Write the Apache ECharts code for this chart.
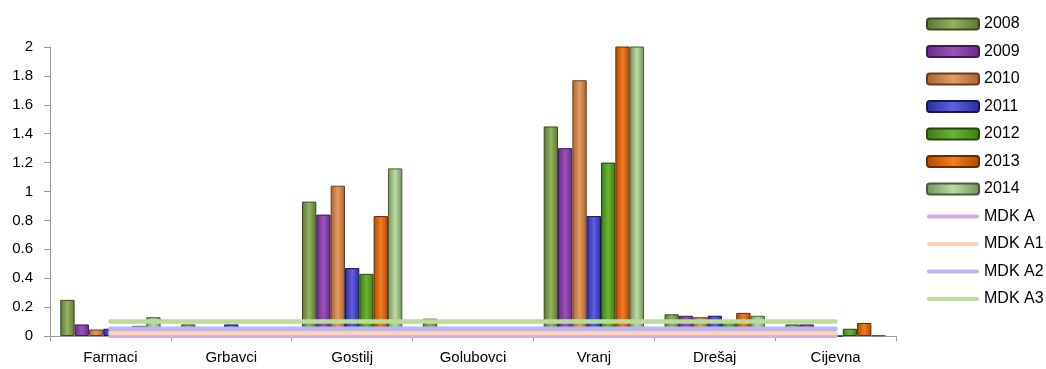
<!DOCTYPE html>
<html>
<head>
<meta charset="utf-8">
<script src="https://cdn.jsdelivr.net/npm/echarts@6/dist/echarts.min.js"></script>
<style>
  html, body { margin: 0; padding: 0; background: #fff; }
  #chart { width: 1046px; height: 369px; }
</style>
</head>
<body>
<div id="chart"></div>
<script>
const categories = ['Farmaci', 'Grbavci', 'Gostilj', 'Golubovci', 'Vranj', 'Drešaj', 'Cijevna']

const y2008 = [0.25, 0.08, 0.93, 0.12, 1.45, 0.15, 0.08]
const y2009 = [0.08, 0, 0.84, 0, 1.30, 0.14, 0.08]
const y2010 = [0.045, 0, 1.04, 0, 1.77, 0.13, 0]
const y2011 = [0.05, 0.08, 0.47, 0, 0.83, 0.14, 0]
const y2012 = [0.03, 0, 0.43, 0, 1.20, 0.10, 0.05]
const y2013 = [0.07, 0, 0.83, 0, 2.30, 0.16, 0.09]
const y2014 = [0.13, 0, 1.16, 0, 2.50, 0.14, 0.005]

const mdkA  = [0, 0, 0, 0, 0, 0, 0]
const mdkA1 = [0.02, 0.02, 0.02, 0.02, 0.02, 0.02, 0.02]
const mdkA2 = [0.05, 0.05, 0.05, 0.05, 0.05, 0.05, 0.05]
const mdkA3 = [0.1, 0.1, 0.1, 0.1, 0.1, 0.1, 0.1]

const yTicks = [0, 0.2, 0.4, 0.6, 0.8, 1, 1.2, 1.4, 1.6, 1.8, 2]

const fontFamily = "'Liberation Sans', Arial, sans-serif"
const axisGray = '#9a9a9a'

// cylinder-ish shading like the old Excel bevel bars
const shade = (edge, mid) => new echarts.graphic.LinearGradient(0, 0, 1, 0, [
  { offset: 0, color: edge },
  { offset: 0.5, color: mid },
  { offset: 1, color: edge },
])

// thick rounded stroke for the MDK legend entries
const lineIcon = 'path://M2,0 H50 A2,2 0 0 1 50,4 H2 A2,2 0 0 1 2,0 Z'

const barSeries = [
  { name: '2008', data: y2008, edge: '#5b7431', mid: '#94b460', border: '#3b4a22' },
  { name: '2009', data: y2009, edge: '#662a87', mid: '#9c52bb', border: '#40185a' },
  { name: '2010', data: y2010, edge: '#a9622f', mid: '#e39d62', border: '#6e3c1a' },
  { name: '2011', data: y2011, edge: '#2b2b9c', mid: '#6060e2', border: '#16165e' },
  { name: '2012', data: y2012, edge: '#3d7a12', mid: '#6cb434', border: '#234a08' },
  { name: '2013', data: y2013, edge: '#b04a00', mid: '#f27c22', border: '#6a2c00' },
  { name: '2014', data: y2014, edge: '#73905d', mid: '#bcdca2', border: '#4a5a3c' },
].map((s) => ({
  name: s.name,
  type: 'bar',
  data: s.data,
  barGap: '0%',
  barCategoryGap: '17%',
  clip: true,
  itemStyle: { color: shade(s.edge, s.mid), borderColor: s.border, borderWidth: 1 },
}))

const lineSeries = [
  { name: 'MDK A', data: mdkA, color: '#d6a9e3' },
  { name: 'MDK A1', data: mdkA1, color: '#fcd2b3' },
  { name: 'MDK A2', data: mdkA2, color: '#b5b5f7' },
  { name: 'MDK A3', data: mdkA3, color: '#b9dd99' },
].map((s) => ({
  name: s.name,
  type: 'line',
  data: s.data,
  symbol: 'none',
  z: 5,
  itemStyle: { color: s.color },
  lineStyle: { color: s.color, width: 4.5, cap: 'round' },
}))

const chart = echarts.init(document.getElementById('chart'))
chart.setOption({
  animation: false,
  textStyle: { fontFamily },
  grid: { left: 50, right: 150, top: 47, bottom: 33 },
  legend: {
    orient: 'vertical',
    left: 926,
    top: 16,
    padding: 0,
    itemWidth: 52,
    itemHeight: 11,
    itemGap: 11.5,
    textStyle: { fontSize: 16, color: '#000', fontFamily, lineHeight: 14 },
    data: [
      ...barSeries.map((s) => s.name),
      ...lineSeries.map((s) => ({ name: s.name, icon: lineIcon })),
    ],
  },
  xAxis: {
    type: 'category',
    data: categories,
    axisLine: { lineStyle: { color: axisGray } },
    axisTick: { show: true, length: 5, lineStyle: { color: axisGray } },
    axisLabel: { color: '#000', fontSize: 15, margin: 14, fontFamily },
  },
  yAxis: {
    type: 'value',
    min: 0,
    max: 2,
    interval: 0.2,
    axisLine: { show: true, lineStyle: { color: axisGray } },
    axisTick: { show: true, length: 6, lineStyle: { color: axisGray } },
    splitLine: { show: false },
    axisLabel: {
      color: '#000',
      fontSize: 15,
      margin: 17,
      fontFamily,
      formatter: (v) => {
        const t = yTicks.find((x) => Math.abs(x - v) < 1e-6)
        return t === undefined ? '' : String(t)
      },
    },
  },
  series: [...barSeries, ...lineSeries],
})
</script>
</body>
</html>
